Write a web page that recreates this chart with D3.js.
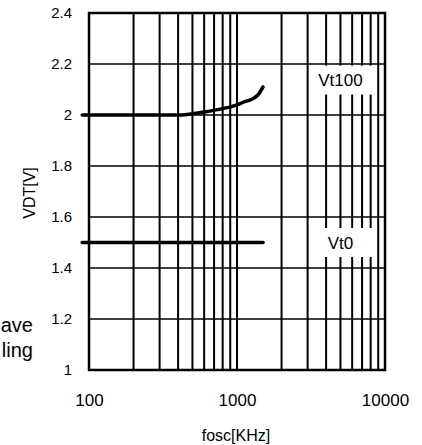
<!DOCTYPE html>
<html>
<head>
<meta charset="utf-8">
<script src="https://cdn.jsdelivr.net/npm/d3@7/dist/d3.min.js"></script>
<style>
  body { margin: 0; background: #fff; }
  svg { display: block; font-family: "Liberation Sans", Arial, sans-serif; }
</style>
</head>
<body>
<svg id="chart" width="422" height="445"></svg>
<script>
// 横轴 fosc[KHz]
var xDomain = [100, 10000];
var xLabels = [100, 1000, 10000];
var xGrid = [200, 300, 400, 500, 600, 700, 800, 900, 1000,
             2000, 3000, 4000, 5000, 6000, 7000, 8000, 9000];
// 纵轴 VDT[V]
var yDomain = [1, 2.4];
var yLabels = [1, 1.2, 1.4, 1.6, 1.8, 2, 2.2, 2.4];

// Vt100 曲线
var vt100F = [90, 200, 400, 600, 800, 1000, 1100, 1300, 1400, 1500];
var vt100V = [2.0, 2.0, 2.0, 2.012, 2.025, 2.04, 2.05, 2.066, 2.082, 2.11];
// Vt0 曲线
var vt0F = [90, 1500];
var vt0V = [1.5, 1.5];

// 曲线标签
var labelNames = ["Vt100", "Vt0"];
var labelF = [5000, 5000];
var labelV = [2.137, 1.5];

var svg = d3.select("#chart");
var margin = {left: 89, right: 37, top: 13, bottom: 75};
var W = 422, H = 445;

var xScale = d3.scaleLog().domain(xDomain).range([margin.left, W - margin.right]);
var yScale = d3.scaleLinear().domain(yDomain).range([H - margin.bottom, margin.top]);

var g = svg.append("g");

// 竖向网格
g.selectAll(".vgrid")
    .data(xGrid)
    .join("line")
    .attr("class", "vgrid")
    .attr("x1", d => xScale(d)).attr("x2", d => xScale(d))
    .attr("y1", yScale.range()[1]).attr("y2", yScale.range()[0])
    .attr("stroke", "#000")
    .attr("stroke-width", 2);

// 横向网格
g.selectAll(".hgrid")
    .data(yLabels.slice(1, -1))
    .join("line")
    .attr("class", "hgrid")
    .attr("x1", xScale.range()[0]).attr("x2", xScale.range()[1])
    .attr("y1", d => yScale(d)).attr("y2", d => yScale(d))
    .attr("stroke", "#000")
    .attr("stroke-width", 1.5);

// 外框
g.append("rect")
    .attr("x", xScale.range()[0])
    .attr("y", yScale.range()[1])
    .attr("width", xScale.range()[1] - xScale.range()[0])
    .attr("height", yScale.range()[0] - yScale.range()[1])
    .attr("fill", "none")
    .attr("stroke", "#000")
    .attr("stroke-width", 2.5);

// 标签白底
var labelData = labelNames.map((n, i) => ({name: n, f: labelF[i], v: labelV[i]}));
var boxW = 61, boxH = 29;
g.selectAll(".lbl-box")
    .data(labelData)
    .join("rect")
    .attr("class", "lbl-box")
    .attr("x", d => xScale(d.f) - boxW / 2 + 2)
    .attr("y", d => yScale(d.v) - boxH / 2)
    .attr("width", boxW)
    .attr("height", boxH)
    .attr("fill", "#fff");

g.selectAll(".lbl-text")
    .data(labelData)
    .join("text")
    .attr("class", "lbl-text")
    .attr("x", d => xScale(d.f))
    .attr("y", d => yScale(d.v) + 6)
    .attr("text-anchor", "middle")
    .style("font-size", "17px")
    .text(d => d.name);

// 曲线
var line = d3.line()
    .x(d => xScale(d[0]))
    .y(d => yScale(d[1]))
    .curve(d3.curveMonotoneX);

[[vt100F, vt100V], [vt0F, vt0V]].forEach(s => {
    g.append("path")
        .datum(s[0].map((f, i) => [f, s[1][i]]))
        .attr("d", line)
        .attr("fill", "none")
        .attr("stroke", "#000")
        .attr("stroke-width", 3.5)
        .attr("stroke-linecap", "round");
});

// 坐标轴文字
var yAxis = d3.axisLeft(yScale).tickValues(yLabels).tickSize(0).tickPadding(17)
    .tickFormat(d3.format("~g"));
svg.append("g")
    .attr("transform", "translate(" + margin.left + ",0)")
    .call(yAxis)
    .call(a => a.select(".domain").remove())
    .selectAll("text")
    .style("font-size", "15px")
    .style("font-family", "Liberation Sans, Arial, sans-serif");

var xAxis = d3.axisBottom(xScale).tickValues(xLabels).tickSize(0).tickPadding(24)
    .tickFormat(d3.format("d"));
svg.append("g")
    .attr("transform", "translate(0," + yScale.range()[0] + ")")
    .call(xAxis)
    .call(a => a.select(".domain").remove())
    .selectAll("text")
    .style("font-size", "17px")
    .style("font-family", "Liberation Sans, Arial, sans-serif");

// 轴标题
svg.append("text")
    .attr("x", 236).attr("y", 441)
    .attr("text-anchor", "middle")
    .style("font-size", "16px")
    .text("fosc[KHz]");

svg.append("text")
    .attr("transform", "translate(35,193) rotate(-90)")
    .attr("text-anchor", "middle")
    .style("font-size", "16px")
    .text("VDT[V]");

// 左侧(邻图)残留文字
svg.append("text")
    .attr("x", 33).attr("y", 332)
    .attr("text-anchor", "end")
    .style("font-size", "20px")
    .text("ave");
svg.append("text")
    .attr("x", 33).attr("y", 357)
    .attr("text-anchor", "end")
    .style("font-size", "20px")
    .text("ling");
</script>
</body>
</html>
